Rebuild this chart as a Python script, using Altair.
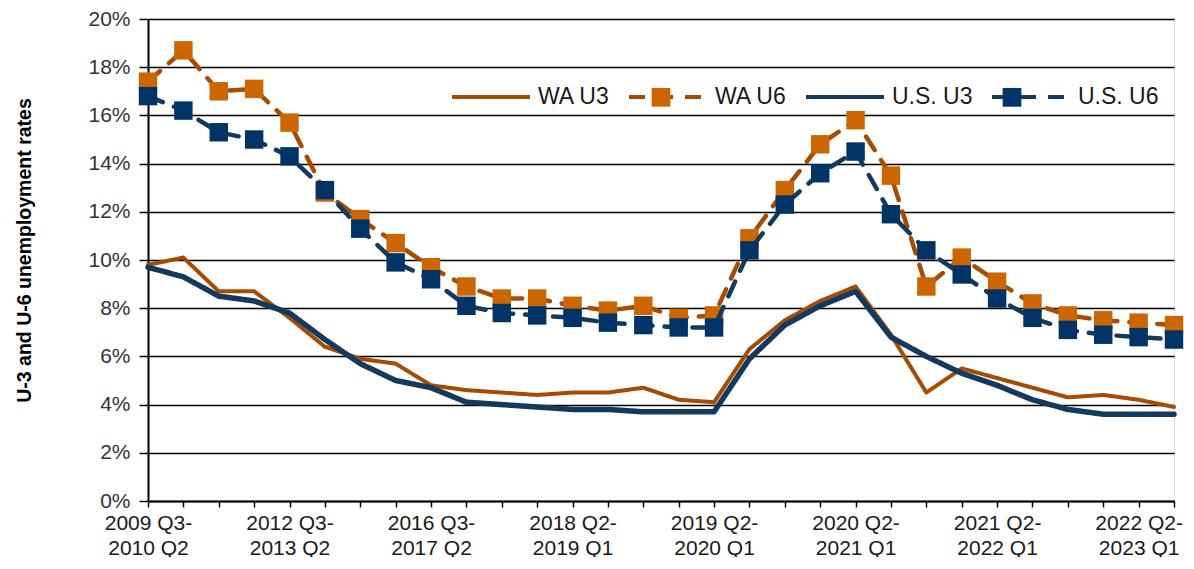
import json
import altair as alt
import pandas as pd

# ---- data ----
series = ["WA U3", "WA U6", "U.S. U3", "U.S. U6"]
marker_series = ["WA U6", "U.S. U6"]
wa_u3 = [9.8, 10.1, 8.7, 8.7, 7.6, 6.4, 5.9, 5.7, 4.8, 4.6, 4.5, 4.4, 4.5, 4.5, 4.7,
         4.2, 4.1, 6.3, 7.5, 8.3, 8.9, 6.9, 4.5, 5.5, 5.1, 4.7, 4.3, 4.4, 4.2, 3.9]
wa_u6 = [17.4, 18.7, 17.0, 17.1, 15.7, 12.8, 11.7, 10.7, 9.7, 8.9, 8.4, 8.4, 8.1, 7.9, 8.1,
         7.6, 7.7, 10.9, 12.9, 14.8, 15.8, 13.5, 8.9, 10.1, 9.1, 8.2, 7.7, 7.5, 7.4, 7.3]
us_u3 = [9.7, 9.3, 8.5, 8.3, 7.8, 6.7, 5.7, 5.0, 4.7, 4.1, 4.0, 3.9, 3.8, 3.8, 3.7,
         3.7, 3.7, 5.9, 7.3, 8.1, 8.7, 6.8, 6.0, 5.3, 4.8, 4.2, 3.8, 3.6, 3.6, 3.6]
us_u6 = [16.8, 16.2, 15.3, 15.0, 14.3, 12.9, 11.3, 9.9, 9.2, 8.1, 7.8, 7.7, 7.6, 7.4, 7.3,
         7.2, 7.2, 10.4, 12.3, 13.6, 14.5, 11.9, 10.4, 9.4, 8.4, 7.6, 7.1, 6.9, 6.8, 6.7]
x_label_pos = [0, 4, 8, 12, 16, 20, 24, 28]
x_labels = ["2009 Q3-2010 Q2", "2012 Q3-2013 Q2", "2016 Q3-2017 Q2", "2018 Q2-2019 Q1",
            "2019 Q2-2020 Q1", "2020 Q2-2021 Q1", "2021 Q2-2022 Q1", "2022 Q2-2023 Q1"]
y_ticks = [0, 2, 4, 6, 8, 10, 12, 14, 16, 18, 20]

# ---- styles ----
line_colors = ["#A84B00", "#A84B00", "#133A5E", "#133A5E"]
marker_colors = ["#CC6600", "#003366"]
dashes = [[1, 0], [16, 12], [1, 0], [16, 12]]
widths = {"WA U3": 4, "WA U6": 4.5, "U.S. U3": 5.5, "U.S. U6": 4.5}
FONT = "Liberation Sans"

values = {"WA U3": wa_u3, "WA U6": wa_u6, "U.S. U3": us_u3, "U.S. U6": us_u6}
rows = []
for s in series:
    for i, v in enumerate(values[s]):
        rows.append({"i": i, "series": s, "value": v})
df = pd.DataFrame(rows)

expr = "''"
for p, lab in reversed(list(zip(x_label_pos, x_labels))):
    expr = f"datum.value == {p} ? {json.dumps([lab[:8], lab[8:]])} : ({expr})"

x_enc = alt.X(
    "i:Q",
    scale=alt.Scale(domain=[0, len(wa_u3) - 1], nice=False, zero=False),
    axis=alt.Axis(
        values=list(range(len(wa_u3))), labelExpr=expr, title=None, grid=False,
        tickSize=6, tickColor="black", tickWidth=1.5, domainColor="black", domainWidth=2,
        labelFont=FONT, labelFontSize=21, labelColor="#1a1a1a", labelLineHeight=25,
        labelPadding=5, labelAngle=0, labelOverlap=False, labelFlush=False, labelBound=False,
    ),
)
y_enc = alt.Y(
    "value:Q",
    scale=alt.Scale(domain=[0, 20], nice=False),
    axis=alt.Axis(
        values=y_ticks, labelExpr="datum.value + '%'",
        title="U-3 and U-6 unemployment rates",
        titleFont=FONT, titleFontSize=19.5, titleFontWeight="bold",
        titleColor="black", titleAngle=270, titleX=-124, titleY=231,
        titleAlign="center", titleBaseline="middle",
        tickSize=9, tickColor="black", tickWidth=1.5, domainColor="black", domainWidth=2,
        grid=True, gridColor="black", gridWidth=1.5,
        labelFont=FONT, labelFontSize=21, labelColor="#333333", labelPadding=9,
    ),
)

LEG_Y = 37
line_legend = alt.Legend(
    orient="none", legendX=302, legendY=LEG_Y, direction="horizontal", title=None,
    symbolType="stroke", symbolSize=6084, symbolStrokeWidth=4, values=series,
    labelFont=FONT, labelFontSize=23, labelColor="#1a1a1a", labelOffset=6,
    columnPadding=11, padding=0,
)
# square markers laid over the dashed legend samples of the two U-6 series
fill_legend = alt.Legend(
    orient="none", legendX=472, legendY=LEG_Y, direction="horizontal", title=None,
    symbolType="M-0.24,-0.24H0.24V0.24H-0.24Z", symbolSize=6084, symbolStrokeWidth=4,
    symbolStrokeColor="transparent", values=marker_series, labelExpr="''",
    labelOffset=0, columnPadding=269, padding=0,
)

stroke_enc = alt.Stroke("series:N", scale=alt.Scale(domain=series, range=line_colors),
                        legend=line_legend)
dash_enc = alt.StrokeDash("series:N", scale=alt.Scale(domain=series, range=dashes),
                          legend=line_legend)
fill_enc = alt.Fill("series:N",
                    scale=alt.Scale(domain=marker_series, range=marker_colors),
                    legend=fill_legend)

base = alt.Chart(df)


def line_layer(s):
    return base.transform_filter(alt.datum.series == s).mark_line(
        strokeWidth=widths[s], strokeCap="round", strokeJoin="round"
    ).encode(x=x_enc, y=y_enc, stroke=stroke_enc, strokeDash=dash_enc)


def point_layer(s):
    return base.transform_filter(alt.datum.series == s).mark_point(
        shape="square", filled=True, size=340, opacity=1, strokeWidth=0
    ).encode(x=x_enc, y=y_enc, fill=fill_enc)


chart = alt.layer(
    line_layer("WA U3"),
    line_layer("WA U6"),
    point_layer("WA U6"),
    line_layer("U.S. U3"),
    line_layer("U.S. U6"),
    point_layer("U.S. U6"),
).properties(
    width=1026, height=482,
    autosize=alt.AutoSizeParams(type="none"),
    padding={"left": 140, "top": 11, "right": 10, "bottom": 56},
).configure_view(stroke="black", strokeWidth=2).configure(background="white")

chart.save("out.html", embed_options={"renderer": "svg", "actions": False})
